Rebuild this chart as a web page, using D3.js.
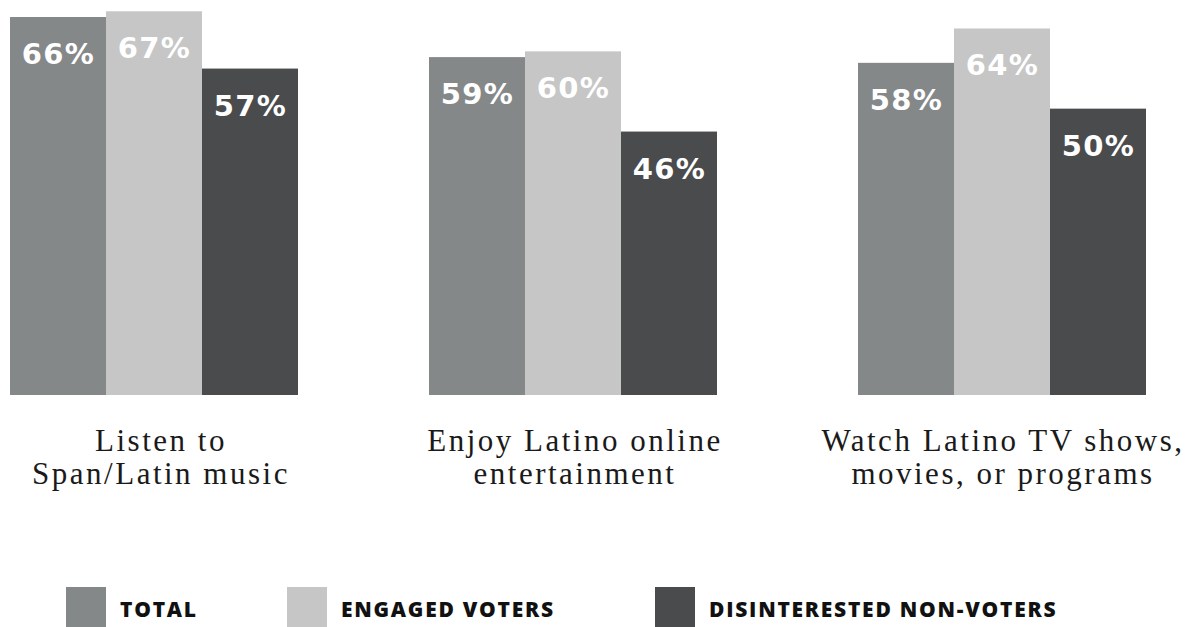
<!DOCTYPE html>
<html>
<head>
<meta charset="utf-8">
<script src="https://cdn.jsdelivr.net/npm/d3@7"></script>
<style>
  html, body { margin: 0; padding: 0; background: #ffffff; }
  svg { display: block; }
</style>
</head>
<body>
<svg id="chart" width="1194" height="627"></svg>
<script>
// Share of respondents by activity and voter segment
const categories = [
  ["Listen to", "Span/Latin music"],
  ["Enjoy Latino online", "entertainment"],
  ["Watch Latino TV shows,", "movies, or programs"]
];
const seriesNames = ["TOTAL", "ENGAGED VOTERS", "DISINTERESTED NON-VOTERS"];
const totalValues = [66, 59, 58];
const engagedValues = [67, 60, 64];
const disinterestedValues = [57, 46, 50];
const seriesValues = [totalValues, engagedValues, disinterestedValues];
const seriesColors = ["#858889", "#c6c6c6", "#4a4b4d"];

const svg = d3.select("#chart");

// Group positions: each group is three adjacent bars
const groupStarts = [10, 429, 858];
const labelShift = [7, 2, 1];
const barWidth = 96;

const x = d3.scaleLinear().domain([0, 1]).range([0, barWidth]);
const y = d3.scaleLinear().domain([0, 100]).range([395, 395 - 572.7]);

const groups = svg.selectAll("g.group")
  .data(categories)
  .join("g")
  .attr("class", "group")
  .attr("transform", (d, i) => `translate(${groupStarts[i]},0)`);

groups.each(function(cat, gi) {
  const g = d3.select(this);
  const vals = seriesValues.map(s => s[gi]);
  g.selectAll("rect")
    .data(vals)
    .join("rect")
    .attr("x", (d, si) => x(si))
    .attr("y", d => y(d))
    .attr("width", barWidth)
    .attr("height", d => y(0) - y(d))
    .attr("fill", (d, si) => seriesColors[si]);

  g.selectAll("text.value")
    .data(vals)
    .join("text")
    .attr("class", "value")
    .attr("x", (d, si) => x(si) + barWidth / 2 + 0.5)
    .attr("y", d => y(d) + 47)
    .attr("text-anchor", "middle")
    .attr("fill", "#ffffff")
    .style("font-family", "'DejaVu Sans', sans-serif")
    .style("font-weight", 700)
    .style("font-size", "29px")
    .style("letter-spacing", "1.4px")
    .text(d => d + "%");

  const label = g.append("text")
    .attr("text-anchor", "middle")
    .attr("fill", "#1a1a1a")
    .style("font-family", "'Liberation Serif', 'DejaVu Serif', serif")
    .style("font-size", "31px")
    .style("letter-spacing", "2.5px");
  label.selectAll("tspan")
    .data(cat)
    .join("tspan")
    .attr("x", barWidth * 1.5 + labelShift[gi])
    .attr("y", (d, li) => 451 + li * 33)
    .text(d => d);
});

// Legend
const legendX = [66, 287, 655];
const legend = svg.selectAll("g.legend")
  .data(seriesNames)
  .join("g")
  .attr("class", "legend")
  .attr("transform", (d, i) => `translate(${legendX[i]},587)`);
legend.append("rect")
  .attr("width", 40)
  .attr("height", 40)
  .attr("fill", (d, i) => seriesColors[i]);
legend.append("text")
  .attr("x", 54)
  .attr("y", 30)
  .attr("fill", "#111111")
  .style("font-family", "'Open Sans', sans-serif")
  .style("font-weight", 800)
  .style("font-size", "21px")
  .style("letter-spacing", "1.75px")
  .text(d => d);
</script>
</body>
</html>
